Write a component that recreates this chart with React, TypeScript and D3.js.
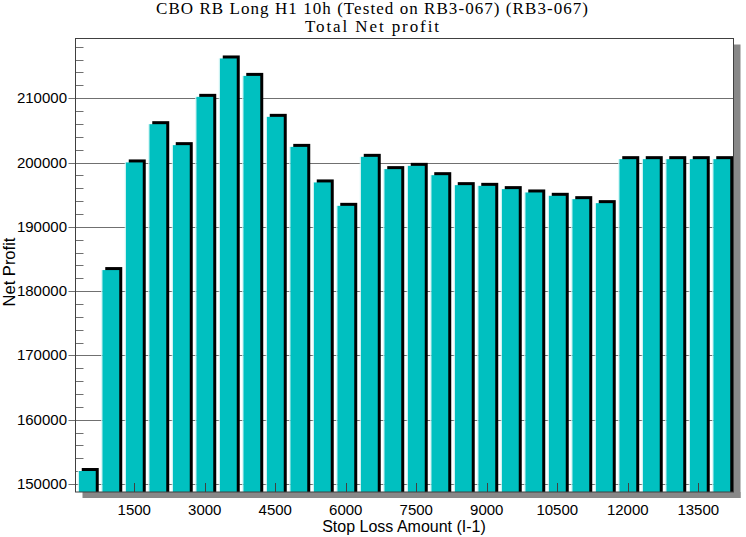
import React from "react";
import * as d3 from "d3";

const stopLoss = [500,1000,1500,2000,2500,3000,3500,4000,4500,5000,5500,6000,6500,7000,7500,8000,8500,9000,9500,10000,10500,11000,11500,12000,12500,13000,13500,14000];
const netProfit = [152020,183270,200010,205960,202700,210210,216180,213470,207100,202430,196900,193260,200880,198970,199480,198030,196480,196370,195860,195340,194820,194300,193680,200520,200520,200520,200520,200520];
const yTicks = [150000,160000,170000,180000,190000,200000,210000];
const xTickLabels = [1500,3000,4500,6000,7500,9000,10500,12000,13500];
const title1 = "CBO RB Long H1 10h (Tested on RB3-067) (RB3-067)";
const title2 = "Total Net profit";
const xLabel = "Stop Loss Amount (I-1)";
const yLabel = "Net Profit";

export default function App() {
  const W = 746, H = 537;
  const L = 75.5, R = 733.5, T = 38.5, B = 492;
  const x = d3.scaleBand<number>().domain(stopLoss).range([L, R]).paddingInner(0.277).paddingOuter(0.1385);
  const y = d3.scaleLinear().domain([148756, 219285]).range([B, T]);
  const minor = d3.range(150000, 219001, 2000);
  const bw = x.bandwidth();
  const sans = "'Liberation Sans', Arial, sans-serif";
  const serif = "'Liberation Serif', 'Times New Roman', serif";
  return (
    <svg width={W} height={H} style={{ position: "absolute", left: 0, top: 0, background: "#fff" }}>
      <rect x={0} y={0} width={W} height={H} fill="#fff" />
      <text x={372} y={14} textAnchor="middle" fontFamily={serif} fontSize={17} textLength={432} lengthAdjust="spacing">{title1}</text>
      <text x={372} y={32} textAnchor="middle" fontFamily={serif} fontSize={17} textLength={134} lengthAdjust="spacing">{title2}</text>
      {/* shadow */}
      <rect x={R} y={T + 6} width={7} height={B - T} fill="#888" />
      <rect x={L + 7} y={B} width={R - L} height={6} fill="#888" />
      <rect x={L} y={T} width={R - L} height={B - T} fill="#fff" />
      {/* gridlines */}
      {yTicks.map(t => (
        <line key={"g" + t} x1={L - 7} x2={R} y1={Math.round(y(t)) + 0.5} y2={Math.round(y(t)) + 0.5} stroke="#707070" strokeWidth={1} />
      ))}
      {minor.filter(t => t % 10000 !== 0).map(t => (
        <line key={"m" + t} x1={L} x2={L + 8} y1={Math.round(y(t)) + 0.5} y2={Math.round(y(t)) + 0.5} stroke="#707070" strokeWidth={1} />
      ))}
      {/* bars */}
      {stopLoss.map((s, i) => {
        const x0 = x(s)!;
        const yt = y(netProfit[i]);
        return (
          <g key={"b" + s}>
            <rect x={x0 + 3} y={yt - 3} width={bw} height={B - yt + 3} fill="#000" />
            <rect x={x0} y={yt} width={bw} height={B - yt} fill="#00C0C0" />
            <line x1={x0 - 0.5} x2={x0 - 0.5} y1={yt} y2={B} stroke="#d0f4f4" strokeWidth={1} />
          </g>
        );
      })}
      {/* x ticks */}
      {xTickLabels.map(t => {
        const cx = x(t)! + bw / 2;
        return (
          <g key={"x" + t}>
            <line x1={Math.round(cx) + 0.5} x2={Math.round(cx) + 0.5} y1={B - 9} y2={B} stroke="#404040" />
            <text x={cx} y={515} textAnchor="middle" fontFamily={sans} fontSize={15}>{t}</text>
          </g>
        );
      })}
      {/* frame */}
      <rect x={L} y={T} width={R - L} height={B - T} fill="none" stroke="#404040" strokeWidth={1} />
      {yTicks.map(t => (
        <text key={"yl" + t} x={67} y={y(t) + 5} textAnchor="end" fontFamily={sans} fontSize={15}>{t}</text>
      ))}
      <text x={404} y={532} textAnchor="middle" fontFamily={sans} fontSize={16}>{xLabel}</text>
      <text transform={`translate(15,272) rotate(-90)`} textAnchor="middle" fontFamily={sans} fontSize={16.5}>{yLabel}</text>
    </svg>
  );
}
